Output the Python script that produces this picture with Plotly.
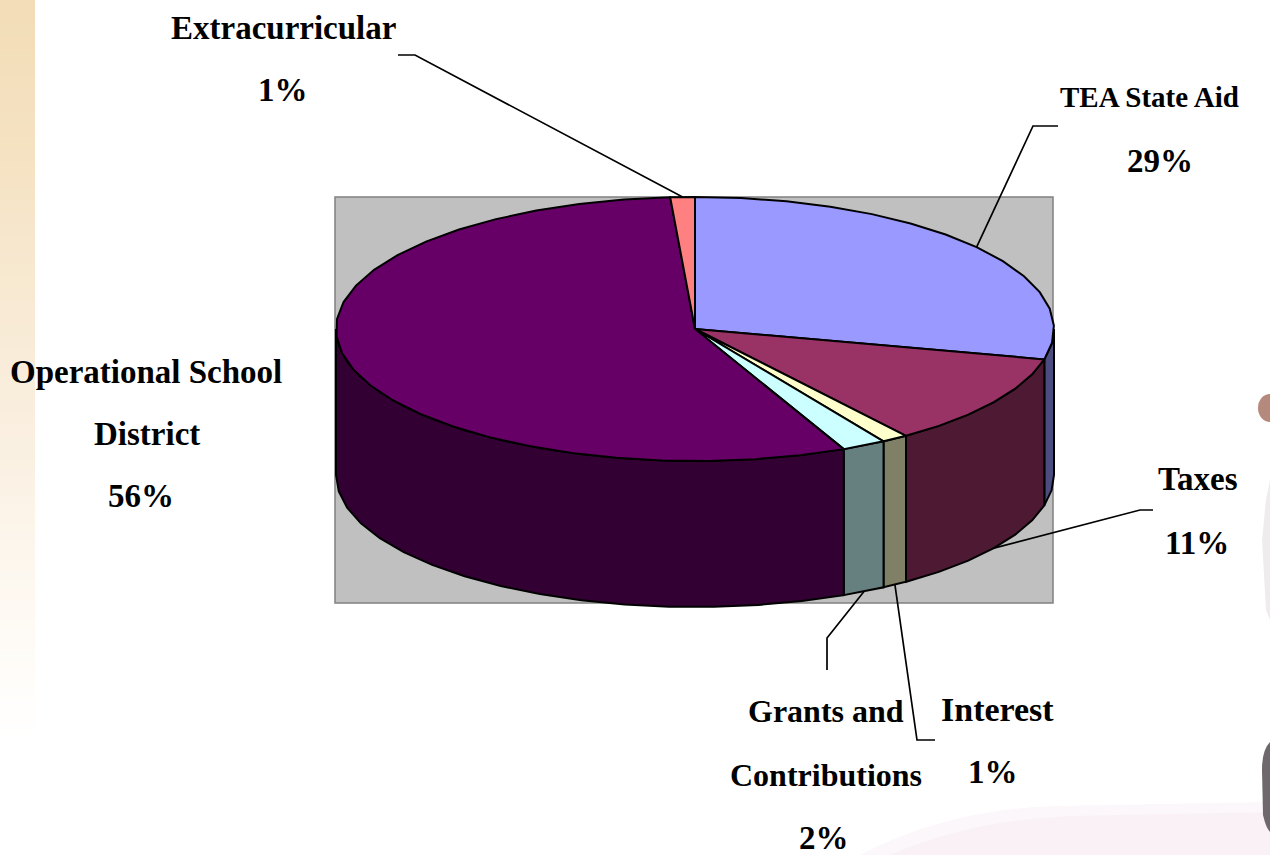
import math
import plotly.graph_objects as go

# ---- data ----
categories = ["TEA State Aid", "Taxes", "Interest", "Grants and Contributions",
              "Operational School District", "Extracurricular"]
values = [28.7, 11.3, 1.2, 2.0, 55.7, 1.1]
percent_labels = ["29%", "11%", "1%", "2%", "56%", "1%"]
top_colors = ["#9999FF", "#993366", "#FFFFCC", "#CCFFFF", "#660066", "#FF8080"]
side_colors = ["#4C4C80", "#4D1933", "#808066", "#668080", "#330033", "#804040"]

# ---- layout of the page, in pixels ----
W, H = 1270, 855
CX, CY, RX, RY, DEPTH = 695, 329, 359, 132, 146
BOX = (335, 197, 1053, 603)
# lines of each label: (text, x centre, y centre, font size)
label_lines = {
    "TEA State Aid": [("TEA State Aid", 1149, 97, 29), (percent_labels[0], 1160, 161, 33)],
    "Taxes": [("Taxes", 1198, 479, 33), (percent_labels[1], 1197, 543, 33)],
    "Interest": [("Interest", 997, 709, 34), (percent_labels[2], 993, 772, 33)],
    "Grants and Contributions": [("Grants and", 826, 711, 32), ("Contributions", 826, 775, 32),
                                 (percent_labels[3], 824, 838, 33)],
    "Operational School District": [("Operational School", 146, 372, 33), ("District", 147, 434, 33),
                                    (percent_labels[4], 141, 496, 33)],
    "Extracurricular": [("Extracurricular", 283, 28, 33), (percent_labels[5], 283, 90, 33)],
}
# leader routing: anchor on top rim or bottom rim, then elbow and end
leaders = {
    "TEA State Aid": ("top", [(1033, 126), (1058, 126)]),
    "Taxes": ("bottom", [(1140, 510), (1153, 510)]),
    "Interest": ("bottom", [(917, 740), (935, 740)]),
    "Grants and Contributions": ("bottom", [(827, 638), (827, 670)]),
    "Extracurricular": ("top", [(415, 55), (398, 55)]),
}


def rim(t, dy=0):
    return CX + RX * math.sin(t), CY - RY * math.cos(t) + dy


def arc(a, b, dy=0, step=math.radians(7.5)):
    n = max(2, int(abs(b - a) / step) + 2)
    return [rim(a + (b - a) * i / (n - 1), dy) for i in range(n)]


total = sum(values)
spans = []
acc = 0.0
for v in values:
    spans.append((2 * math.pi * acc / total, 2 * math.pi * (acc + v) / total))
    acc += v

fig = go.Figure()


def poly(pts, color, width=2):
    fig.add_trace(go.Scatter(
        x=[p[0] for p in pts], y=[p[1] for p in pts], mode="lines",
        fill="toself", fillcolor=color, line=dict(color="#000000", width=width),
        hoverinfo="skip", showlegend=False))


# walls: they only touch along verticals
for (a, b), c in zip(spans, side_colors):
    lo, hi = max(a, math.pi / 2), min(b, 3 * math.pi / 2)
    if hi > lo:
        top = arc(lo, hi)
        bot = arc(hi, lo, DEPTH)
        poly(top + bot + [top[0]], c)

# top faces
for (a, b), c in zip(spans, top_colors):
    pts = [(CX, CY)] + arc(a, b) + [(CX, CY)]
    poly(pts, c)

# leader lines
for name, (where, tail) in leaders.items():
    i = categories.index(name)
    mid = sum(spans[i]) / 2
    start = rim(mid, DEPTH if where == "bottom" else 0)
    pts = [start] + tail
    fig.add_trace(go.Scatter(x=[p[0] for p in pts], y=[p[1] for p in pts], mode="lines",
                             line=dict(color="#000000", width=1.7),
                             hoverinfo="skip", showlegend=False))

# labels
annotations = []
for lines in label_lines.values():
    for text, x, y, size in lines:
        annotations.append(dict(x=x, y=y, xref="x", yref="y", text=f"<b>{text}</b>",
                                showarrow=False, xanchor="center", yanchor="middle",
                                font=dict(family="Liberation Serif", size=size, color="#000000")))

# page decoration
shapes = []
strip = [(0, (243, 221, 184)), (150, (245, 226, 194)), (300, (248, 234, 212)),
         (450, (250, 240, 226)), (560, (253, 247, 238)), (680, (255, 253, 250)), (740, (255, 255, 255))]
for (y0, c0), (y1, c1) in zip(strip, strip[1:]):
    steps = 12
    for k in range(steps):
        f = k / steps
        col = tuple(round(c0[j] + (c1[j] - c0[j]) * f) for j in range(3))
        shapes.append(dict(type="rect", xref="x", yref="y", layer="below", line_width=0,
                           x0=0, x1=35, y0=y0 + (y1 - y0) * k / steps,
                           y1=y0 + (y1 - y0) * (k + 1) / steps + 1,
                           fillcolor=f"rgb{col}"))
shapes.append(dict(type="path", xref="x", yref="y", layer="below", line_width=0,
                   path="M 860 855 Q 950 808 1060 806 L 1270 802 L 1270 855 Z", fillcolor="#FCF7FA"))
shapes.append(dict(type="path", xref="x", yref="y", layer="below", line_width=0,
                   path="M 890 855 Q 970 820 1070 816 L 1270 812 L 1270 855 Z", fillcolor="#F9F1F6"))
shapes.append(dict(type="circle", xref="x", yref="y", layer="below", line_width=0,
                   x0=1258, x1=1282, y0=394, y1=422, fillcolor="#B58A7C"))
shapes.append(dict(type="path", xref="x", yref="y", layer="below", line_width=0,
                   path="M 1270 480 L 1266 500 L 1262 540 L 1266 610 L 1270 620 Z", fillcolor="#F0ECEE"))
shapes.append(dict(type="path", xref="x", yref="y", layer="below", line_width=0,
                   path="M 1270 742 Q 1262 750 1262 770 L 1263 815 Q 1266 828 1270 832 Z", fillcolor="#6E686C"))
shapes.append(dict(type="rect", xref="x", yref="y", layer="below",
                   x0=BOX[0], y0=BOX[1], x1=BOX[2], y1=BOX[3],
                   fillcolor="#C0C0C0", line=dict(color="#808080", width=1.5)))

fig.update_layout(
    width=W, height=H, autosize=False,
    margin=dict(l=0, r=0, t=0, b=0),
    paper_bgcolor="#FFFFFF", plot_bgcolor="#FFFFFF",
    xaxis=dict(range=[0, W], visible=False, fixedrange=True),
    yaxis=dict(range=[H, 0], visible=False, fixedrange=True),
    annotations=annotations, shapes=shapes, showlegend=False,
)
fig.write_html("out.html", config=dict(displayModeBar=False),
               post_script="document.body.style.margin='0';document.documentElement.style.overflow='hidden';")
